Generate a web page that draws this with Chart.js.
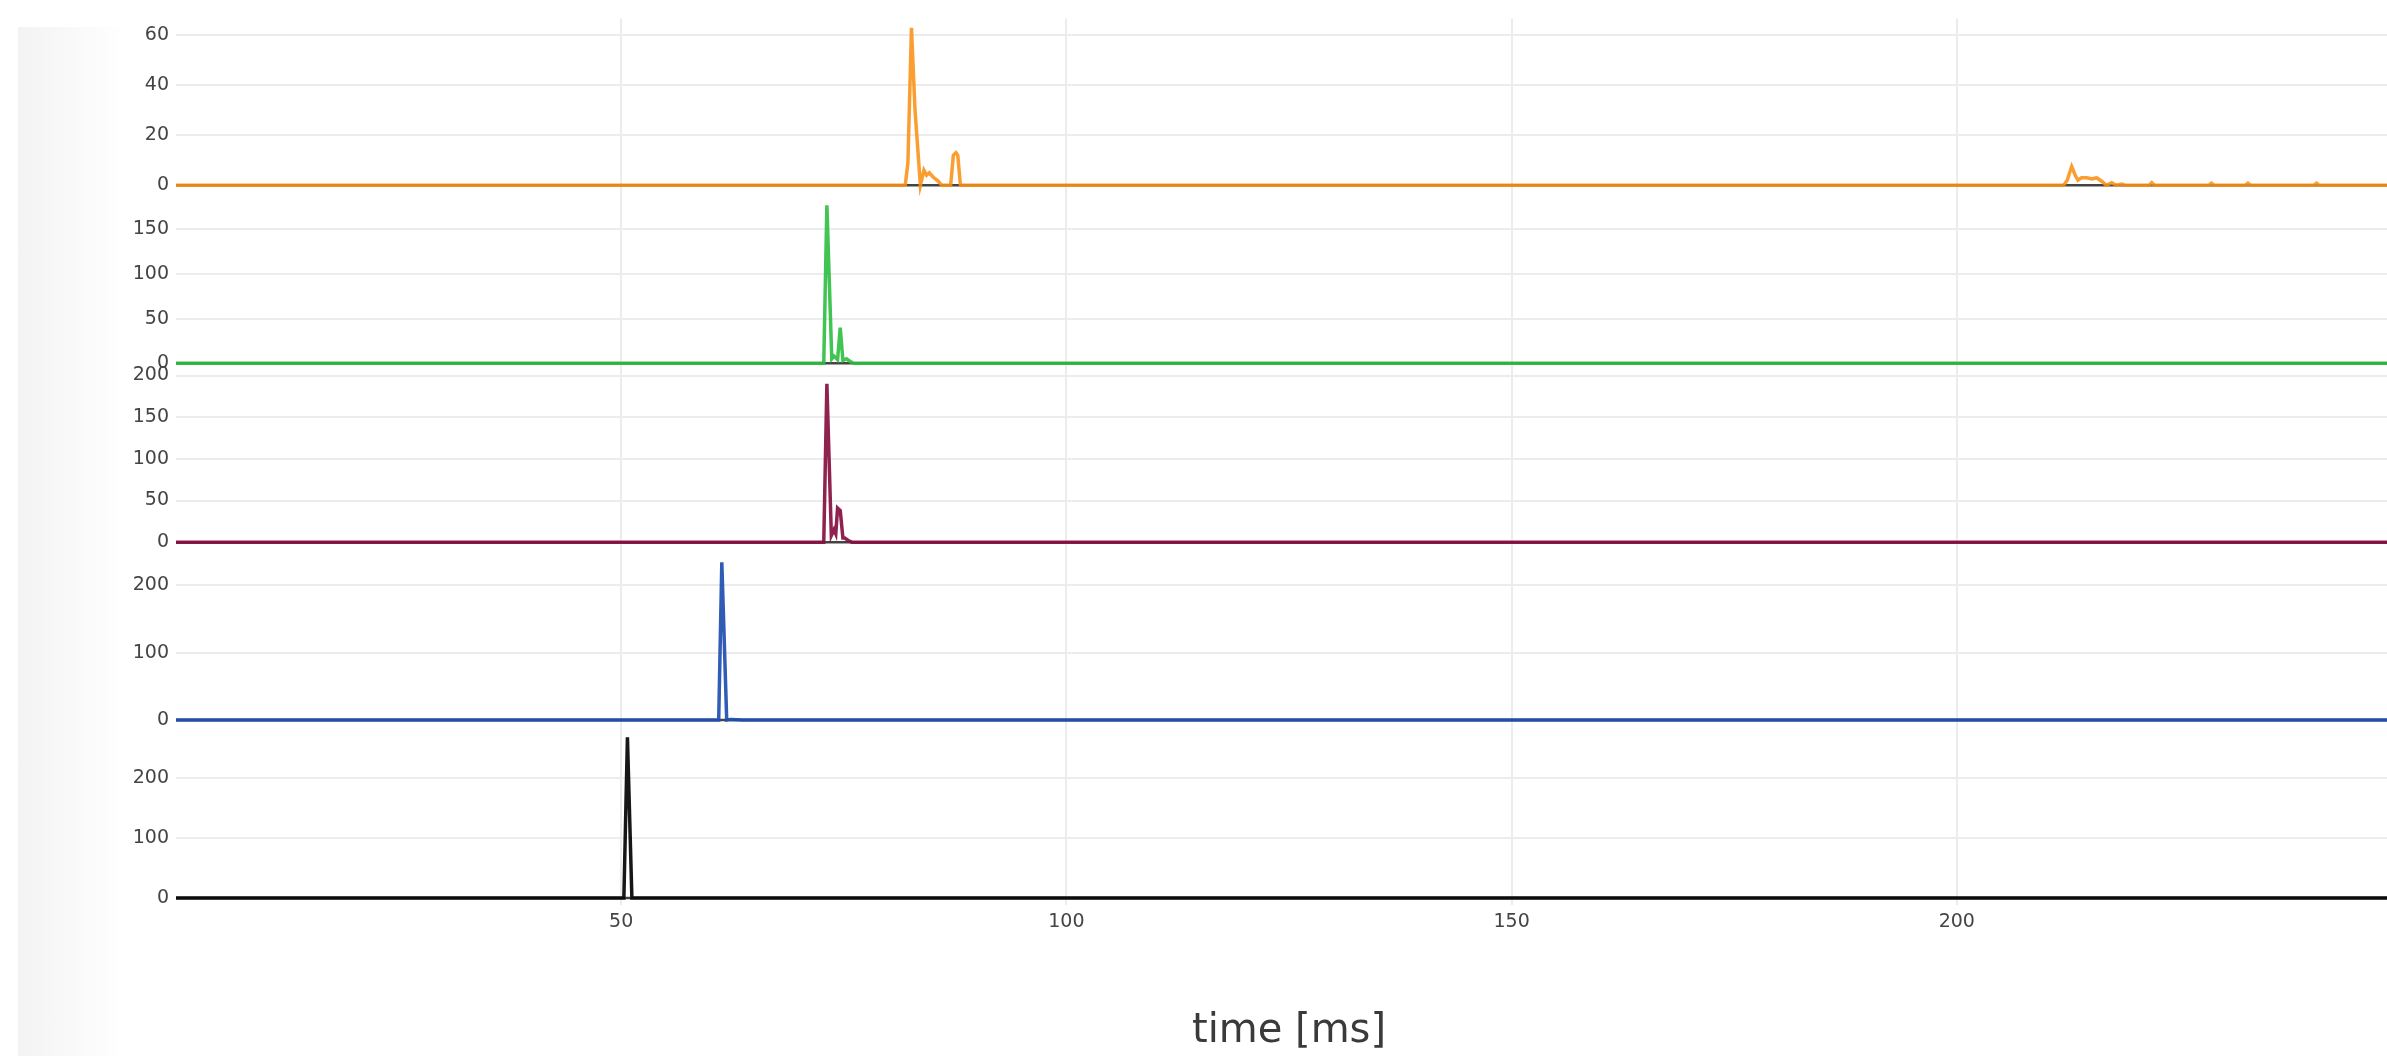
<!DOCTYPE html>
<html lang="en">
<head>
    <meta charset="UTF-8">
    <title>Channel traces vs time</title>
    <script src="https://cdn.jsdelivr.net/npm/chart.js"></script>
    <style>
        html, body { margin: 0; padding: 0; background: #fff; overflow: hidden; }
        #shade {
            position: absolute; left: 18px; top: 27px; width: 110px; bottom: 0;
            background: linear-gradient(to right, #f3f3f3, #fff);
        }
        #wrap { position: absolute; left: 0; top: 0; width: 2402px; height: 1056px; }
    </style>
</head>
<body>
    <div id="shade"></div>
    <div id="wrap"><canvas id="traces"></canvas></div>
    <script>
        // time axis
        const xMin = 0;
        const xMax = 250;
        const xTicks = [50, 100, 150, 200];

        // channel 1 (orange)
        const orangeTime = [0, 81.9, 82.2, 82.6, 83.0, 83.6, 84.0, 84.3, 84.6, 85.1, 85.5, 86.0,
            87.0, 87.3, 87.6, 87.8, 88.1,
            212.0, 212.4, 212.9, 213.3, 213.6, 214.0, 214.6, 215.2, 215.7, 216.3, 216.8, 217.4, 217.9,
            218.5, 218.9, 221.6, 221.9, 222.2, 228.3, 228.6, 228.9, 232.4, 232.7, 233.0, 240.1, 240.4, 240.7, 250];
        const orangeVal = [0, 0, 9, 63, 30, 0, 6, 4, 5, 3, 2, 0,
            0, 12, 13, 12, 0,
            0, 2, 7.5, 4, 2, 3, 3, 2.5, 3, 1.5, 0, 1, 0,
            0.5, 0, 0, 1, 0, 0, 0.8, 0, 0, 0.8, 0, 0, 0.8, 0, 0];

        // channel 2 (green)
        const greenTime = [0, 72.75, 73.1, 73.65, 73.9, 74.3, 74.6, 74.9, 75.3, 75.7, 76.1, 250];
        const greenVal = [0, 0, 177, 5, 8, 4, 40, 3, 5, 2, 0, 0];

        // channel 3 (maroon)
        const maroonTime = [0, 72.75, 73.1, 73.6, 73.9, 74.1, 74.3, 74.6, 74.9, 75.1, 75.5, 75.9, 250];
        const maroonVal = [0, 0, 190, 8, 15, 10, 41, 38, 5, 5, 2, 0, 0];

        // channel 4 (blue)
        const blueTime = [0, 60.95, 61.3, 61.85, 62.3, 63.0, 63.6, 250];
        const blueVal = [0, 0, 234, 0, 1, 0.5, 0, 0];

        // channel 5 (black)
        const blackTime = [0, 50.3, 50.7, 51.2, 250];
        const blackVal = [0, 0, 268, 0, 0];

        // dark reference trace at zero under each channel
        const baseTime = [0, 250];
        const baseVal = [0, 0];

        // y ranges and tick labels per panel, top to bottom
        const yMins = [-4.2, -11, -9.8, -11.3, -11.7];
        const yMaxs = [66.8, 187.7, 203, 251.6, 284];
        const yTicks = [
            [0, 20, 40, 60],
            [0, 50, 100, 150],
            [0, 50, 100, 150, 200],
            [0, 100, 200],
            [0, 100, 200]
        ];

        const toPoints = (t, v) => t.map((x, i) => ({ x: x, y: v[i] }));

        const channels = [
            { t: orangeTime, v: orangeVal, color: 'rgba(250,145,20,0.88)' },
            { t: greenTime, v: greenVal, color: 'rgba(46,190,64,0.9)' },
            { t: maroonTime, v: maroonVal, color: 'rgba(135,15,65,0.92)' },
            { t: blueTime, v: blueVal, color: 'rgba(30,78,175,0.92)' },
            { t: blackTime, v: blackVal, color: 'rgba(10,10,10,0.95)' }
        ];

        const tickFont = { family: 'DejaVu Sans', size: 19 };
        const gridColor = '#ececec';

        const datasets = [];
        const scales = {
            x: {
                type: 'linear',
                min: xMin,
                max: xMax,
                afterBuildTicks: (scale) => { scale.ticks = xTicks.map(v => ({ value: v })); },
                ticks: { font: tickFont, color: '#444', padding: 6, maxRotation: 0 },
                grid: { color: gridColor, lineWidth: 2, drawTicks: false },
                border: { display: false },
                title: {
                    display: true, text: 'time [ms]', color: '#3a3a3a',
                    font: { family: 'DejaVu Sans', size: 40 }, padding: { top: 0, bottom: 0 }
                },
                afterFit: (scale) => { scale.height = 151; }
            }
        };

        channels.forEach((ch, i) => {
            const id = 'y' + (i + 1);
            scales[id] = {
                type: 'linear',
                position: 'left',
                stack: 'panels',
                stackWeight: 1,
                weight: 5 - i,
                min: yMins[i],
                max: yMaxs[i],
                afterBuildTicks: (scale) => { scale.ticks = yTicks[i].map(v => ({ value: v })); },
                ticks: { font: tickFont, color: '#444', padding: 7 },
                grid: { color: gridColor, lineWidth: 2, drawTicks: false },
                border: { display: false },
                afterFit: (scale) => { scale.width = 176; }
            };
            datasets.push({
                data: toPoints(ch.t, ch.v),
                yAxisID: id,
                borderColor: ch.color,
                borderWidth: 3.5,
                pointRadius: 0,
                tension: 0,
                order: 0
            });
            datasets.push({
                data: toPoints(baseTime, baseVal),
                yAxisID: id,
                borderColor: '#444',
                borderWidth: 2.5,
                pointRadius: 0,
                order: 1
            });
        });

        new Chart(document.getElementById('traces'), {
            type: 'line',
            data: { datasets: datasets },
            options: {
                responsive: true,
                maintainAspectRatio: false,
                animation: false,
                layout: { padding: { top: 18, left: 0, right: 0, bottom: 0 } },
                plugins: { legend: { display: false }, tooltip: { enabled: false } },
                scales: scales
            }
        });
    </script>
</body>
</html>
